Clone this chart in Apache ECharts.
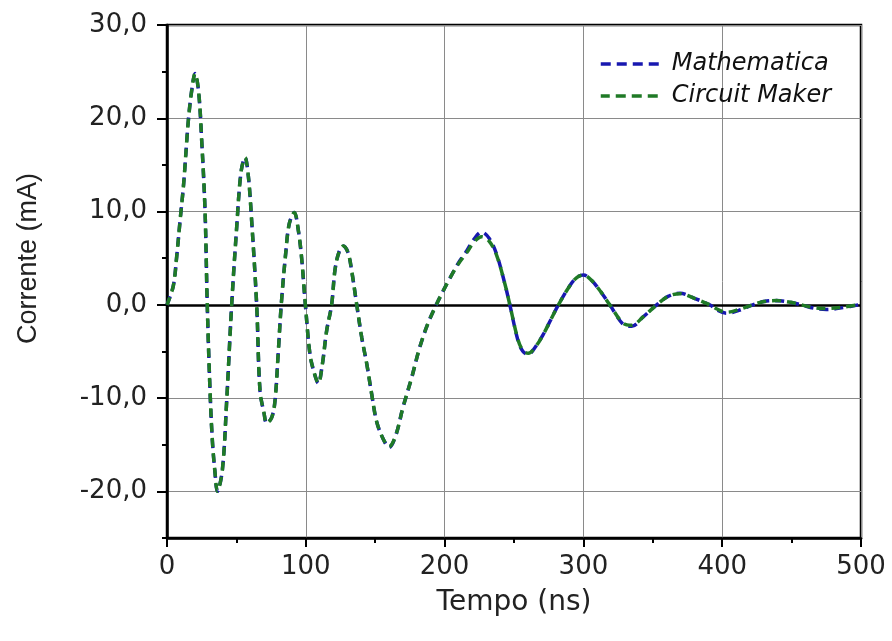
<!DOCTYPE html>
<html>
<head>
<meta charset="utf-8">
<script src="https://cdn.jsdelivr.net/npm/echarts@6/dist/echarts.min.js"></script>
<style>html,body{margin:0;padding:0;background:#fff}#c{width:892px;height:641px}</style>
</head>
<body>
<div id="c"></div>
<script>
// Time (ns)
const tempo = [0,4.5,7,9.4,12,15.4,18,20.2,22.8,25,27.4,29,31,32.7,34.6,36.3,39.9,43,46.6,50.2,53.3,56.2,58.6,61,64.6,67,69.9,71.8,75.4,77.8,80.2,82.3,85.7,88.1,91.7,94.6,97,99.7,103,105.9,109,111.9,115,118.6,121,123.8,127,130.4,133,136.7,140.3,144,147.5,151,155.5,160,164.8,170,176.3,182,188,194,199,204,210,216,221,226.7,232.2,237.5,243.5,247,253,256.5,260.3,265,271,276.5,282,290,295,300,306,312,319,328.8,334.8,343,352.8,361,369.6,380,391,397,403,412,422,430,439,448,457,466,475,487,500];
// Current (mA) – Mathematica
const mathematica = [0,2,5.2,9,13,19.8,23.2,24.8,22.8,17.6,10.1,0,-9.2,-14.6,-18,-20,-17.7,-10.3,0,8.3,14.2,15.8,13.8,9,0,-9.2,-11.6,-12.7,-12.1,-10.3,-5,0,5.8,8.7,9.9,8,5,0,-5.3,-7.2,-8.4,-6.4,-2.8,0,3.7,5.6,6.3,5.6,3.7,0,-3.5,-6.4,-9.6,-12.5,-14.3,-15.3,-14,-11,-7.8,-4.6,-2,0,1.5,2.9,4.5,5.8,7,7.8,7.1,5.4,2.2,0,-3.9,-5,-5.3,-4.6,-3.2,-1.6,0,2,2.9,3.2,2.6,1.5,0,-2.1,-2.3,-1.3,0,0.9,1.25,0.7,0,-0.6,-0.9,-0.6,0,0.35,0.45,0.3,0,-0.35,-0.5,-0.3,0.05];
// Current (mA) – Circuit Maker
const circuitMaker = [0,2,5.2,9,13,19.8,23.2,24.8,22.8,17.6,10.1,0,-9.2,-14.6,-18,-20,-17.7,-10.3,0,8.3,14.2,15.8,13.8,9,0,-9.2,-11.6,-12.7,-12.1,-10.3,-5,0,5.8,8.7,9.9,8,5,0,-5.3,-7.2,-8.4,-6.4,-2.8,0,3.7,5.6,6.3,5.6,3.7,0,-3.5,-6.4,-9.6,-12.5,-14.3,-15.2,-14,-11,-7.8,-4.6,-2,0,1.5,2.9,4.4,5.6,6.7,7.3,6.8,5.3,2.2,0,-3.8,-4.9,-5.2,-4.6,-3.2,-1.6,0,2,2.9,3.2,2.6,1.5,0,-2,-2.2,-1.3,0,0.9,1.2,0.7,0,-0.5,-0.8,-0.5,0,0.35,0.45,0.3,0,-0.3,-0.4,-0.25,0.05];
const seriesNames = ['Mathematica','Circuit Maker'];
const xTicks = [0,100,200,300,400,500];
const yMajorTicks = [-20,-10,0,10,20,30];

const pair = (xs, ys) => xs.map((x, i) => [x, ys[i]]);
const fmt = v => v.toFixed(1).replace('.', ',');
const hFont = '"DejaVu Sans", sans-serif';
const vFont = '"Liberation Sans", Arial, sans-serif';
const BLUE = '#1818b0', GREEN = '#1f7a26';

const chart = echarts.init(document.getElementById('c'));
chart.setOption({
  animation: false,
  grid: {left: 167, right: 31, top: 25, bottom: 103, show: true, borderColor: '#000', borderWidth: 2.5, backgroundColor: 'transparent'},
  legend: {
    data: seriesNames, orient: 'vertical', left: 594, top: 45,
    itemWidth: 60, itemHeight: 14, itemGap: 4,
    itemStyle: {opacity: 0},
    lineStyle: {width: 3.5, type: [10, 6]},
    textStyle: {fontFamily: hFont, fontSize: 24, fontStyle: 'italic', color: '#111', padding: [0,0,0,6], lineHeight: 28}
  },
  xAxis: {
    type: 'value', min: xTicks[0], max: xTicks[xTicks.length-1], interval: 100,
    name: 'Tempo (ns)', nameLocation: 'middle', nameGap: 51,
    nameTextStyle: {fontFamily: hFont, fontSize: 28, color: '#222'},
    axisLine: {onZero: false, lineStyle: {color: '#000', width: 2.5}},
    axisTick: {length: 9, lineStyle: {color: '#000', width: 2}},
    minorTick: {show: true, splitNumber: 2, length: 5, lineStyle: {color: '#000', width: 2}},
    axisLabel: {fontFamily: hFont, fontSize: 26, color: '#222', margin: 16},
    splitLine: {show: true, lineStyle: {color: '#8a8a8a', width: 1}}
  },
  yAxis: [{
    type: 'value', min: -25, max: 30, interval: 5,
    name: 'Corrente (mA)', nameLocation: 'middle', nameGap: 125,
    nameTextStyle: {fontFamily: vFont, fontSize: 27, color: '#222', padding: [0,0,0,46]},
    axisLine: {lineStyle: {color: '#000', width: 2.5}},
    axisTick: {length: 5, lineStyle: {color: '#000', width: 2}},
    axisLabel: {fontFamily: hFont, fontSize: 26, color: '#222', margin: 20,
      formatter: v => (yMajorTicks.indexOf(v) >= 0 ? fmt(v) : '')},
    splitLine: {show: true, lineStyle: {color: ['rgba(0,0,0,0)', '#8a8a8a'], width: 1}}
  }, {
    type: 'value', min: -25, max: 30, position: 'left', interval: 5,
    axisLine: {show: false},
    axisTick: {show: true, length: 10, customValues: yMajorTicks, lineStyle: {color: '#000', width: 2}},
    axisLabel: {show: false},
    splitLine: {show: false}
  }],
  series: [{
    name: seriesNames[0], type: 'line', data: pair(tempo, mathematica), yAxisIndex: 0,
    smooth: 0.35, showSymbol: false, symbol: 'none', z: 3,
    lineStyle: {color: BLUE, width: 3.5, type: [9, 6]}, itemStyle: {color: BLUE},
    markLine: {silent: true, symbol: 'none', label: {show: false},
      lineStyle: {color: '#000', width: 2.5, type: 'solid'}, data: [{yAxis: 0}], z: 2}
  }, {
    name: seriesNames[1], type: 'line', data: pair(tempo, circuitMaker), yAxisIndex: 0,
    smooth: 0.35, showSymbol: false, symbol: 'none', z: 4,
    lineStyle: {color: GREEN, width: 3.5, type: [9, 6], dashOffset: 1}, itemStyle: {color: GREEN}
  }]
});
</script>
</body>
</html>
